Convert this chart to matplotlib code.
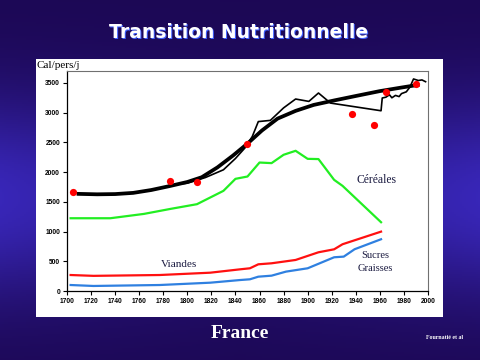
import numpy as np
import matplotlib
matplotlib.use("Agg")
import matplotlib.pyplot as plt
from matplotlib.patches import Rectangle

# ---------------- Data ---------------- #
fit_years = [1708, 1725, 1740, 1755, 1770, 1785, 1800, 1812, 1825, 1838,
             1850, 1862, 1875, 1890, 1905, 1922, 1940, 1960, 1978, 1993]
fit_values = [1636, 1628, 1632, 1652, 1700, 1765, 1835, 1915, 2080, 2280,
              2480, 2700, 2900, 3030, 3130, 3205, 3280, 3362, 3422, 3470]

total_years = [1785, 1800, 1815, 1830, 1840, 1848, 1854, 1859, 1869, 1880,
               1890, 1901, 1909, 1919, 1961, 1962, 1965, 1968, 1970, 1973,
               1976, 1978, 1982, 1985, 1988, 1992, 1995, 1998]
total_values = [1780, 1815, 1910, 2040, 2230, 2410, 2600, 2850, 2870, 3080,
                3229, 3189, 3330, 3161, 3032, 3246, 3260, 3300, 3250, 3290,
                3270, 3320, 3350, 3430, 3566, 3540, 3550, 3520]

obs_years = [1705, 1786, 1808, 1850, 1937, 1955, 1965, 1990]
obs_values = [1664, 1860, 1843, 2477, 2982, 2785, 3347, 3480]

cereal_years = [1703, 1736, 1764, 1786, 1808, 1830, 1840, 1850, 1860, 1870,
                1880, 1890, 1900, 1909, 1922, 1929, 1940, 1961]
cereal_values = [1226, 1226, 1299, 1383, 1462, 1686, 1888, 1927, 2162, 2152,
                 2292, 2359, 2224, 2220, 1871, 1770, 1560, 1159]

meat_years = [1703, 1722, 1777, 1819, 1844, 1852, 1859, 1870, 1890, 1909,
              1922, 1929, 1961]
meat_values = [272, 258, 272, 311, 368, 385, 452, 469, 525, 654, 704, 789, 1001]

sugar_years = [1703, 1722, 1777, 1819, 1844, 1852, 1859, 1870, 1882, 1900,
               1922, 1930, 1939, 1961]
sugar_values = [104, 88, 104, 143, 188, 200, 244, 261, 329, 385, 570, 581, 705, 873]

# ---------------- Figure ---------------- #
fig = plt.figure(figsize=(4.8, 3.6), dpi=100)

# slide background gradient
bg = fig.add_axes([0, 0, 1, 1])
yy, xx = np.mgrid[0:1:180j, 0:1:240j]
f = np.exp(-((yy - 0.55) / 0.28) ** 2) * (0.5 + 0.5 * np.abs(xx - 0.5) * 2)
dark = np.array([0.11, 0.03, 0.33])
bright = np.array([0.22, 0.15, 0.72])
img = dark + (bright - dark) * f[..., None]
bg.imshow(img, extent=[0, 1, 0, 1], aspect="auto", origin="upper")
bg.set_axis_off()

fig.patches.append(Rectangle((0.0744, 0.1203), 0.848, 0.715,
                             transform=fig.transFigure, facecolor="white",
                             edgecolor="none", zorder=1))

fig.text(0.5, 0.908, "Transition Nutritionnelle", ha="center", va="center",
         color="#4060ff", fontsize=13.5, fontweight="bold", family="DejaVu Sans")
fig.text(0.498, 0.91, "Transition Nutritionnelle", ha="center", va="center",
         color="white", fontsize=13.5, fontweight="bold", family="DejaVu Sans")
fig.text(0.5, 0.075, "France", ha="center", va="center", color="white",
         fontsize=14, fontweight="bold", family="Liberation Serif")
fig.text(0.927, 0.063, "Fournatié et al", ha="center", va="center",
         color="white", fontsize=4.2, fontweight="bold", family="Liberation Serif")
fig.text(0.077, 0.817, "Cal/pers/j", ha="left", va="center", color="black",
         fontsize=8, family="Liberation Serif")

ax = fig.add_axes([0.1396, 0.1911, 0.752, 0.6117])
ax.set_zorder(2)
ax.patch.set_alpha(0)

ax.plot(cereal_years, cereal_values, color="#22ee22", lw=1.6)
ax.plot(meat_years, meat_values, color="#ff1010", lw=1.6)
ax.plot(sugar_years, sugar_values, color="#2f80e0", lw=1.6)
ax.plot(fit_years, fit_values, color="black", lw=2.7,
        solid_capstyle="butt", solid_joinstyle="round")
ax.plot(total_years, total_values, color="black", lw=1.2)
ax.plot(obs_years, obs_values, "o", color="#ff0000", ms=5.2, mec="none")

lbl = dict(family="Liberation Serif", color="#1a1a40", ha="center", va="center")
ax.text(1957, 1871, "Céréales", fontsize=8.4, **lbl)
ax.text(1793, 441, "Viandes", fontsize=8.1, **lbl)
ax.text(1956, 598, "Sucres", fontsize=7.6, **lbl)
ax.text(1956, 374, "Graisses", fontsize=7.6, **lbl)

ax.set_xlim(1700, 2000)
ax.set_ylim(0, 3700)
ax.set_xticks(range(1700, 2001, 20))
ax.set_yticks(range(0, 3501, 500))
ax.tick_params(length=3, width=0.8, pad=2, labelsize=4.8, direction="out")
for t in ax.get_xticklabels() + ax.get_yticklabels():
    t.set_fontweight("bold")
    t.set_family("Liberation Sans")
for s in ["top", "right"]:
    ax.spines[s].set_color("#707070")
    ax.spines[s].set_linewidth(0.8)
for s in ["left", "bottom"]:
    ax.spines[s].set_linewidth(0.9)

plt.savefig("out.png", dpi=100)
